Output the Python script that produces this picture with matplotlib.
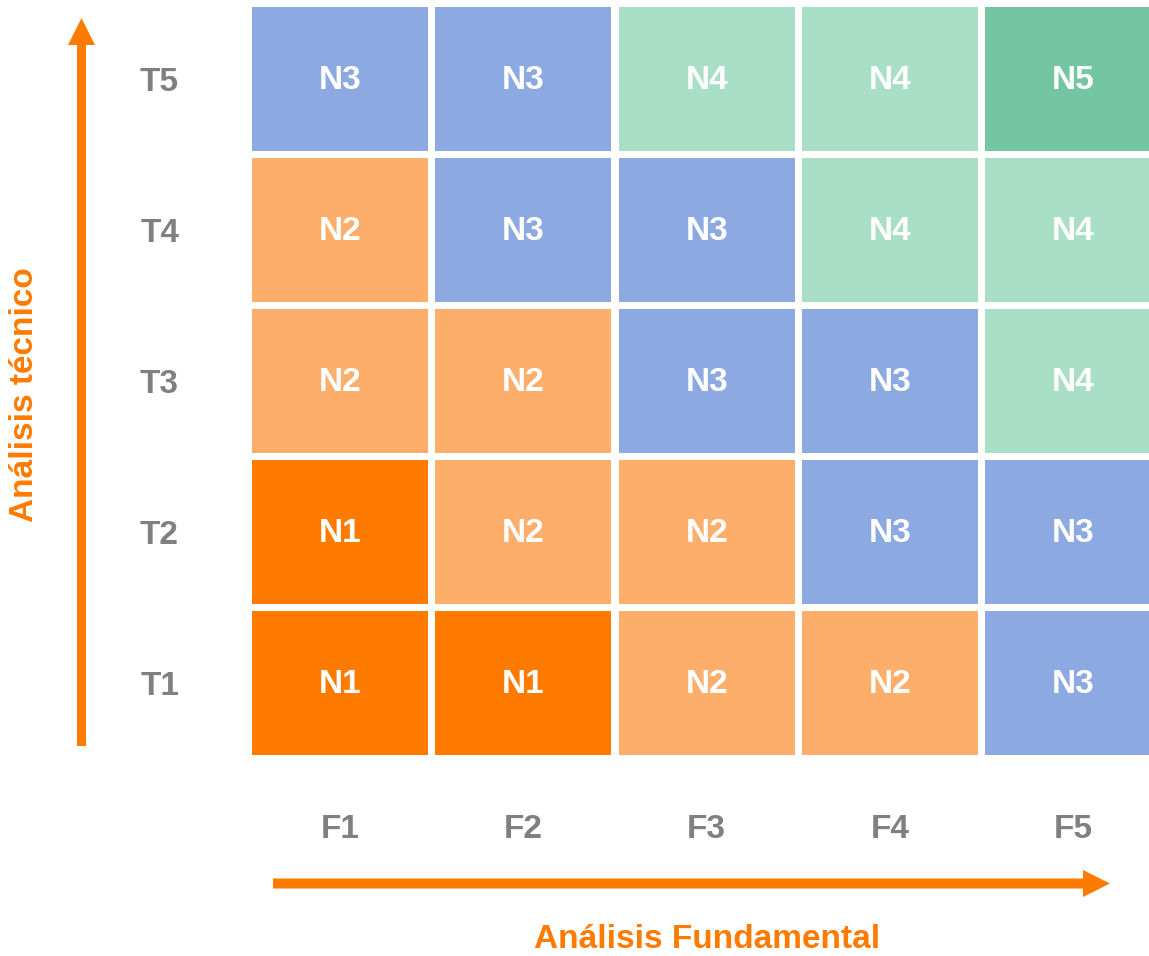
import matplotlib
matplotlib.use("Agg")
import matplotlib.pyplot as plt
from matplotlib.patches import Rectangle, FancyArrow

plt.rcParams['font.family'] = ['Liberation Sans', 'DejaVu Sans']
plt.rcParams['font.weight'] = 'bold'

# data
fund_labels = ['F1', 'F2', 'F3', 'F4', 'F5']
tech_labels = ['T1', 'T2', 'T3', 'T4', 'T5']
# levels, rows T1..T5 (bottom to top), columns F1..F5
levels = [
    [1, 1, 2, 2, 3],
    [1, 2, 2, 3, 3],
    [2, 2, 3, 3, 4],
    [2, 3, 3, 4, 4],
    [3, 3, 4, 4, 5],
]
level_colors = {1: '#FF7B00', 2: '#FDAE6B', 3: '#8CA9E1', 4: '#A9DEC7', 5: '#74C6A3'}
orange = '#FF7B00'
gray = '#808080'

W, H = 1149, 956
fig = plt.figure(figsize=(W / 100, H / 100), dpi=100)

# main grid axes (cell pitch 183.25 x 151 px)
ax = fig.add_axes([248.5 / W, (H - 758.5) / H, 916.25 / W, 755 / H])
cw, ch = 176 / 183.25, 144 / 151
for r, row in enumerate(levels):
    for c, lv in enumerate(row):
        ax.add_patch(Rectangle((c - cw / 2, r - ch / 2), cw, ch,
                               facecolor=level_colors[lv], edgecolor='none'))
        ax.text(c, r - 0.01, 'N%d' % lv, ha='center', va='center',
                color='white', fontsize=24, fontweight='bold')
ax.set_xlim(-0.5, 4.5)
ax.set_ylim(-0.5, 4.5)
ax.set_xticks(range(5))
ax.set_xticklabels(fund_labels, fontsize=24, color=gray, fontweight='bold')
ax.set_yticks(range(5))
ax.set_yticklabels(tech_labels, fontsize=24, color=gray, fontweight='bold')
ax.tick_params(length=0)
ax.tick_params(axis='x', pad=40)
ax.tick_params(axis='y', pad=50)
for s in ax.spines.values():
    s.set_visible(False)

# overlay for arrows, in pixel units
ov = fig.add_axes([0, 0, 1, 1])
ov.set_xlim(0, W)
ov.set_ylim(H, 0)
ov.axis('off')
ov.add_patch(FancyArrow(81.5, 746, 0, -728, width=9, head_width=27,
                        head_length=27, length_includes_head=True,
                        color=orange, lw=0))
ov.add_patch(FancyArrow(273, 883.5, 837, 0, width=10, head_width=27,
                        head_length=27, length_includes_head=True,
                        color=orange, lw=0))

fig.text(25 / W, 1 - 395 / H, 'Análisis técnico', rotation=90,
         ha='center', va='center', color=orange, fontsize=24, fontweight='bold')
fig.text(707 / W, 1 - 940 / H, 'Análisis Fundamental',
         ha='center', va='center', color=orange, fontsize=24, fontweight='bold')

fig.savefig('out.png', dpi=100)
